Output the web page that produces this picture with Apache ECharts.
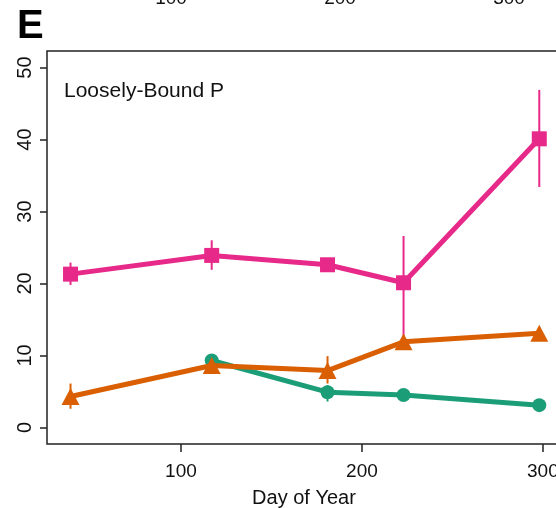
<!DOCTYPE html>
<html>
<head>
<meta charset="utf-8">
<script src="https://cdn.jsdelivr.net/npm/echarts@6/dist/echarts.min.js"></script>
<style>html,body{margin:0;padding:0;background:#fff;overflow:hidden}#c{width:580px;height:508px}</style>
</head>
<body>
<div id="c"></div>
<script>
// ---- data ----
const xTicks = [100, 200, 300];
const yTicks = [0, 10, 20, 30, 40, 50];
const topCutLabels = ['100', '200', '300'];

const pinkDays = [39, 117, 181, 223, 298];
const pinkVals = [21.3, 23.9, 22.6, 20.1, 40.1];
const pinkLow  = [19.8, 21.9, null, 11.0, 33.4];
const pinkHigh = [22.9, 26.0, null, 26.6, 46.9];

const orangeDays = [39, 117, 181, 223, 298];
const orangeVals = [4.3, 8.6, 7.9, 11.9, 13.1];
const orangeLow  = [2.6, null, 6.1, null, null];
const orangeHigh = [6.1, null, 9.9, null, null];

const greenDays = [117, 181, 223, 298];
const greenVals = [9.3, 4.9, 4.5, 3.1];
const greenLow  = [null, 3.6, null, null];
const greenHigh = [null, 5.9, null, null];

const PINK = '#E7298A', ORANGE = '#D95F02', GREEN = '#1B9E77';
const FONT = "'Liberation Sans', Arial, sans-serif";

function pairs(days, vals) { return days.map((d, i) => [d, vals[i]]); }
function errData(days, lo, hi) {
  const out = [];
  days.forEach((d, i) => { if (lo[i] != null) out.push([d, lo[i], hi[i]]); });
  return out;
}
function errSeries(days, lo, hi, color, z) {
  return {
    type: 'custom', z: z, silent: true,
    data: errData(days, lo, hi),
    encode: { x: 0, y: [1, 2] },
    renderItem: function (params, api) {
      const a = api.coord([api.value(0), api.value(1)]);
      const b = api.coord([api.value(0), api.value(2)]);
      return { type: 'line', shape: { x1: a[0], y1: a[1], x2: b[0], y2: b[1] },
               style: { stroke: color, lineWidth: 2 } };
    }
  };
}
function lineSeries(days, vals, color, symbol, size, z) {
  return {
    type: 'line', z: z, data: pairs(days, vals), symbol: symbol, symbolSize: size,
    showSymbol: true, animation: false,
    lineStyle: { color: color, width: 5 },
    itemStyle: { color: color, borderWidth: 0 }
  };
}

const chart = echarts.init(document.getElementById('c'), null, { renderer: 'canvas' });
chart.setOption({
  animation: false,
  backgroundColor: '#fff',
  grid: { left: 47, top: 51, width: 514, height: 393, show: true, borderColor: '#222', borderWidth: 1.5,
          containLabel: false, outerBoundsMode: 'none' },
  xAxis: {
    type: 'value', min: 26, max: 310,
    name: 'Day of Year', nameLocation: 'middle', nameGap: 44,
    nameTextStyle: { fontFamily: FONT, fontSize: 20, color: '#111' },
    axisLine: { show: false, onZero: false },
    axisTick: { show: true, length: 8, customValues: xTicks, lineStyle: { color: '#222', width: 1.5 } },
    axisLabel: { customValues: xTicks, margin: 18, fontFamily: FONT, fontSize: 19, color: '#111' },
    splitLine: { show: false }
  },
  yAxis: {
    type: 'value', min: -2.3, max: 52.3,
    axisLine: { show: false, onZero: false },
    axisTick: { show: true, length: 7, customValues: yTicks, lineStyle: { color: '#222', width: 1.5 } },
    axisLabel: { customValues: yTicks, rotate: 90, margin: 12, fontFamily: FONT, fontSize: 20, color: '#111' },
    splitLine: { show: false }
  },
  graphic: [
    { type: 'text', left: 17, top: 7, style: { text: 'E', font: "bold 40px " + FONT, fill: '#000' } },
    { type: 'text', x: 64, y: 91, style: { text: 'Loosely-Bound P', font: "21px " + FONT, fill: '#111', verticalAlign: 'middle' } },
    { type: 'text', x: 171, y: 8, style: { text: topCutLabels[0], font: "19px " + FONT, fill: '#111', align: 'center', verticalAlign: 'bottom' } },
    { type: 'text', x: 340, y: 8, style: { text: topCutLabels[1], font: "19px " + FONT, fill: '#111', align: 'center', verticalAlign: 'bottom' } },
    { type: 'text', x: 509, y: 8, style: { text: topCutLabels[2], font: "19px " + FONT, fill: '#111', align: 'center', verticalAlign: 'bottom' } }
  ],
  series: [
    errSeries(pinkDays, pinkLow, pinkHigh, PINK, 2),
    lineSeries(pinkDays, pinkVals, PINK, 'rect', [15, 15], 3),
    errSeries(greenDays, greenLow, greenHigh, GREEN, 4),
    lineSeries(greenDays, greenVals, GREEN, 'circle', 14, 5),
    errSeries(orangeDays, orangeLow, orangeHigh, ORANGE, 6),
    lineSeries(orangeDays, orangeVals, ORANGE, 'triangle', [18, 17], 7)
  ]
});
</script>
</body>
</html>
